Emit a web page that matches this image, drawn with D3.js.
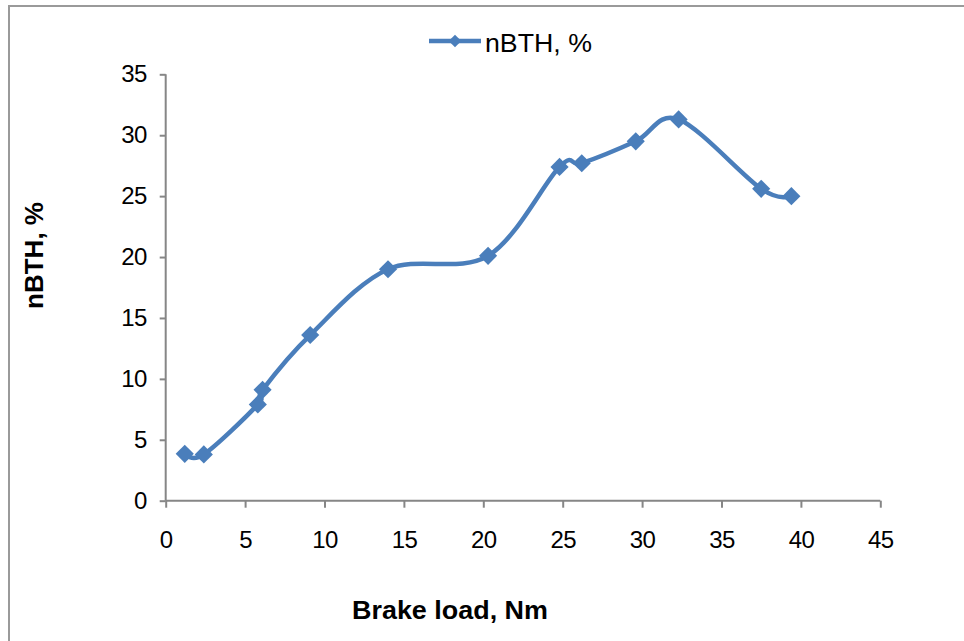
<!DOCTYPE html>
<html>
<head>
<meta charset="utf-8">
<script src="https://cdn.jsdelivr.net/npm/d3@7"></script>
<style>
  html, body { margin: 0; padding: 0; background: #fff; }
  svg text { font-family: "Liberation Sans", Arial, sans-serif; fill: #000; }
</style>
</head>
<body>
<svg id="chart" width="964" height="641"></svg>
<script>
// Data
const brakeLoad = [1.2, 2.4, 5.8, 6.1, 9.1, 14.0, 20.3, 24.8, 26.2, 29.6, 32.3, 37.5, 39.4];
const nBTH      = [3.85, 3.8, 7.9, 9.1, 13.6, 19.0, 20.1, 27.4, 27.7, 29.5, 31.3, 25.6, 25.0];
const xTicks = [0, 5, 10, 15, 20, 25, 30, 35, 40, 45];
const yTicks = [0, 5, 10, 15, 20, 25, 30, 35];
const seriesName = "nBTH, %";
const xTitle = "Brake load, Nm";
const yTitle = "nBTH, %";

const svg = d3.select("#chart");
const blue = "#4A7EBB";
const axisGray = "#868686";

// Outer frame
svg.append("path")
  .attr("d", "M9,641 L9,6 L964,6")
  .attr("fill", "none").attr("stroke", "#9a9a9a").attr("stroke-width", 2);

const x = d3.scaleLinear().domain([0, 45]).range([165.7, 880.3]);
const y = d3.scaleLinear().domain([0, 35]).range([500.7, 74.3]);

// Y axis
const yAxis = svg.append("g").attr("transform", `translate(${x(0)},0)`)
  .call(d3.axisLeft(y).tickValues(yTicks).tickSize(6).tickPadding(13).tickFormat(d3.format("d")));
// X axis
const xAxis = svg.append("g").attr("transform", `translate(0,${y(0)})`)
  .call(d3.axisBottom(x).tickValues(xTicks).tickSize(7).tickPadding(23).tickFormat(d3.format("d")));

[xAxis, yAxis].forEach(g => {
  g.select(".domain").attr("stroke", axisGray).attr("stroke-width", 2);
  g.selectAll(".tick line").attr("stroke", axisGray).attr("stroke-width", 2);
  g.selectAll(".tick text").style("font-size", "24px").style("letter-spacing", "-0.6px")
    .style("font-family", "'Liberation Sans', Arial, sans-serif").attr("fill", "#000");
});
yAxis.select(".domain").attr("d", `M0,${y(35)}V${y(0)}`);
xAxis.select(".domain").attr("d", `M${x(0)},0H${x(45)}`);

const data = brakeLoad.map((v, i) => [v, nBTH[i]]);

const line = d3.line()
  .x(d => x(d[0])).y(d => y(d[1]))
  .curve(d3.curveCardinal.tension(0));

svg.append("path")
  .datum(data)
  .attr("d", line)
  .attr("fill", "none")
  .attr("stroke", blue)
  .attr("stroke-width", 4.5)
  .attr("stroke-linejoin", "round");

const diamond = d3.symbol().type(d3.symbolSquare).size(165);
svg.append("g").selectAll("path")
  .data(data)
  .join("path")
  .attr("d", diamond)
  .attr("transform", d => `translate(${x(d[0])},${y(d[1])}) rotate(45)`)
  .attr("fill", blue);

// Legend
const lg = svg.append("g");
lg.append("line").attr("x1", 429).attr("x2", 481).attr("y1", 41).attr("y2", 41)
  .attr("stroke", blue).attr("stroke-width", 4.5);
lg.append("path").attr("d", d3.symbol().type(d3.symbolSquare).size(80))
  .attr("transform", "translate(455,41) rotate(45)").attr("fill", blue);
lg.append("text").attr("x", 485).attr("y", 52).style("font-size", "26px")
  .attr("textLength", 107).attr("lengthAdjust", "spacingAndGlyphs").text(seriesName);

// Axis titles
svg.append("text")
  .attr("x", 450).attr("y", 619)
  .attr("text-anchor", "middle")
  .style("font-size", "26px").style("font-weight", "bold")
  .attr("textLength", 196).attr("lengthAdjust", "spacingAndGlyphs")
  .text(xTitle);

svg.append("text")
  .attr("transform", "translate(43,255.5) rotate(-90)")
  .attr("text-anchor", "middle")
  .style("font-size", "26px").style("font-weight", "bold")
  .text(yTitle);
</script>
</body>
</html>
